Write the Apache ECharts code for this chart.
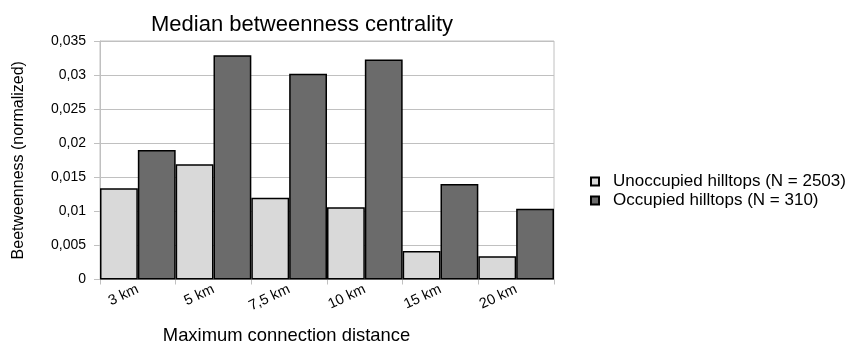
<!DOCTYPE html>
<html><head><meta charset="utf-8">
<script src="https://cdn.jsdelivr.net/npm/echarts@6/dist/echarts.min.js"></script>
<style>html,body{margin:0;padding:0;background:#fff}#c{width:847px;height:345px}</style>
</head><body><div id="c"></div>
<script>
const categories = ['3 km','5 km','7,5 km','10 km','15 km','20 km'];
const unoccupied = [0.0134, 0.0169, 0.0120, 0.0106, 0.0042, 0.0034];
const occupied = [0.0190, 0.0329, 0.0302, 0.0323, 0.0140, 0.0104];
const seriesNames = ['Unoccupied hilltops (N = 2503)','Occupied hilltops (N = 310)'];
const yTicks = {min:0, max:0.035, interval:0.005};

const font = 'Liberation Sans, Arial, sans-serif';
const chart = echarts.init(document.getElementById('c'));
chart.setOption({
  animation:false,
  textStyle:{fontFamily:font},
  title:{text:'Median betweenness centrality', left:297, top:9, textAlign:'center',
    textStyle:{fontFamily:font, fontSize:22, fontWeight:'normal', color:'#000'}},
  grid:{left:100, right:293, top:41, bottom:65.5, containLabel:false, outerBoundsMode:'none',
    show:true, borderColor:'#c0c0c0', borderWidth:1},
  legend:{orient:'vertical', left:585, top:168, itemWidth:8, itemHeight:8, itemGap:2, icon:'rect',
    textStyle:{fontFamily:font, fontSize:17, color:'#000', padding:[0,0,0,9]},
    data:seriesNames},
  xAxis:{type:'category', data:categories,
    name:'Maximum connection distance', nameLocation:'middle', nameGap:47,
    nameTextStyle:{fontFamily:font, fontSize:18.4, color:'#000', padding:[0,81,0,0]},
    axisLine:{lineStyle:{color:'#c0c0c0'}},
    axisTick:{show:true, length:5, lineStyle:{color:'#c0c0c0'}},
    axisLabel:{interval:0, rotate:25, margin:9, fontFamily:font, fontSize:14.5, color:'#000'}},
  yAxis:{type:'value', min:yTicks.min, max:yTicks.max, interval:yTicks.interval,
    name:'Beetweenness (normalized)', nameLocation:'middle', nameGap:73,
    nameTextStyle:{fontFamily:font, fontSize:16, color:'#000'},
    axisLine:{show:true, lineStyle:{color:'#c0c0c0'}},
    axisTick:{show:true, length:6, lineStyle:{color:'#c0c0c0'}},
    splitLine:{lineStyle:{color:'#c0c0c0'}},
    axisLabel:{margin:14, fontFamily:font, fontSize:14, color:'#000',
      formatter:v=>String(+v.toFixed(3)).replace('.',',')}},
  series:[
    {name:seriesNames[0], type:'bar', data:unoccupied, barGap:0, barCategoryGap:0,
      itemStyle:{color:'#d9d9d9', borderColor:'#000', borderWidth:1.5}},
    {name:seriesNames[1], type:'bar', data:occupied, barGap:0, barCategoryGap:0,
      itemStyle:{color:'#6b6b6b', borderColor:'#000', borderWidth:1.5}}
  ]
});
</script></body></html>
